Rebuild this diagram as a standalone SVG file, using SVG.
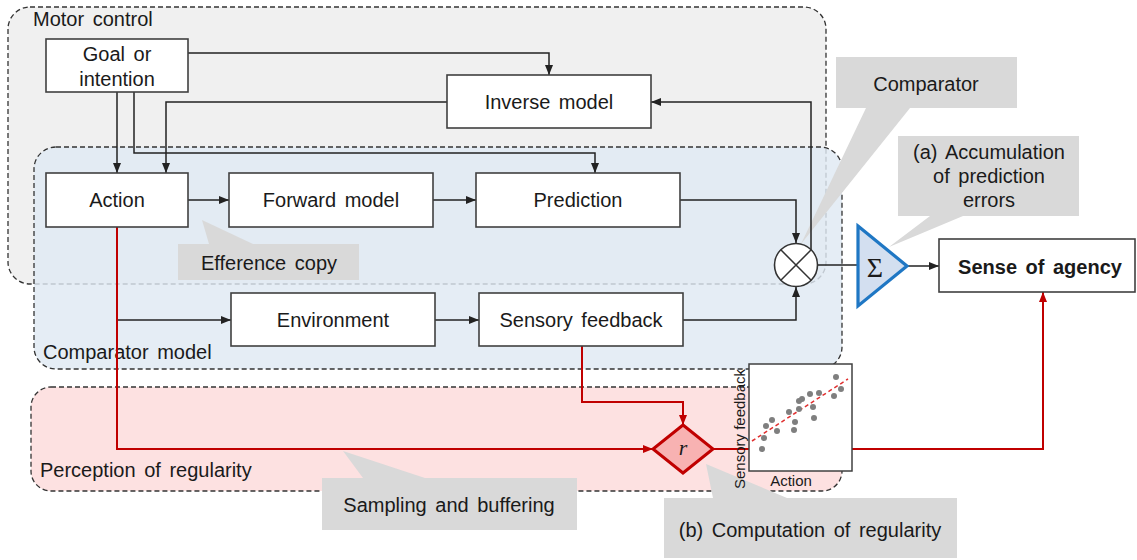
<svg xmlns="http://www.w3.org/2000/svg" width="1137" height="560" viewBox="0 0 1137 560">
<style>
text{font-family:"Liberation Sans",Arial,sans-serif;fill:#1a1a1a;}
.node{fill:#fff;stroke:#404040;stroke-width:1.6;}
.lbl{font-size:20px;text-anchor:middle;word-spacing:3px;}
.reg{font-size:20px;word-spacing:3px;}
.conn{fill:none;stroke:#222;stroke-width:1.5;}
.red{fill:none;stroke:#c00000;stroke-width:2;}
.call{fill:#d9d9d9;}
.dot{fill:#7f7f7f;}
</style>
<defs>
<marker id="ab" markerUnits="userSpaceOnUse" markerWidth="10" markerHeight="10" viewBox="0 0 10 10" refX="10" refY="5" orient="auto"><path d="M0,1 L10,5 L0,9 Z" fill="#222"/></marker>
<marker id="ar" markerUnits="userSpaceOnUse" markerWidth="10" markerHeight="10" viewBox="0 0 10 10" refX="10" refY="5" orient="auto"><path d="M0,1 L10,5 L0,9 Z" fill="#c00000"/></marker>
</defs>
<rect width="1137" height="560" fill="#fff"/>
<!-- regions -->
<g id="motor-control">
<rect x="8" y="7" width="818" height="277" rx="22" fill="#f0f0f0" stroke="#333" stroke-width="1.3" stroke-dasharray="5,3"/>
<text class="reg" x="33" y="26">Motor control</text>
</g>
<g id="comparator-model">
<rect x="34" y="147" width="808" height="222" rx="22" fill="#dfe9f3" fill-opacity="0.82" stroke="#333" stroke-width="1.3" stroke-dasharray="5,3"/>
<text class="reg" x="43" y="359">Comparator model</text>
</g>
<g id="perception-region">
<rect x="31" y="387" width="811" height="104" rx="20" fill="#fde1e1" stroke="#333" stroke-width="1.3" stroke-dasharray="5,3"/>
<text class="reg" x="40" y="477">Perception of regularity</text>
</g>
<!-- callouts -->
<g id="callout-comparator">
<path class="call" d="M836,57 H1017 V108 H910 L801,244 L866,108 H836 Z"/>
<text class="lbl" x="926" y="91">Comparator</text>
</g>
<g id="callout-accumulation">
<path class="call" d="M898,136 H1079 V216 H963 L889,247 L930,216 H898 Z"/>
<text class="lbl" x="989" y="159">(a) Accumulation</text>
<text class="lbl" x="989" y="183">of prediction</text>
<text class="lbl" x="989" y="207">errors</text>
</g>
<g id="callout-efference">
<path class="call" d="M178,244 H209 L202,220 L253,244 H359 V280 H178 Z"/>
<text class="lbl" x="269" y="270">Efference copy</text>
</g>
<!-- connectors -->
<g id="connectors">
<path class="conn" d="M188,53 H549 V75" marker-end="url(#ab)"/>
<path class="conn" d="M117,92 V173" marker-end="url(#ab)"/>
<path class="conn" d="M134,92 V153 H595 V173" marker-end="url(#ab)"/>
<path class="conn" d="M447,102 H166 V173" marker-end="url(#ab)"/>
<path class="conn" d="M811,251 V102 H651" marker-end="url(#ab)"/>
<path class="conn" d="M188,200 H229" marker-end="url(#ab)"/>
<path class="conn" d="M433,200 H476" marker-end="url(#ab)"/>
<path class="conn" d="M680,200 H796 V243" marker-end="url(#ab)"/>
<path class="conn" d="M817,265 H858"/>
<path class="conn" d="M908,266 H939" marker-end="url(#ab)"/>
<path class="conn" d="M117,320 H231" marker-end="url(#ab)"/>
<path class="conn" d="M435,320 H479" marker-end="url(#ab)"/>
<path class="conn" d="M683,320 H796 V287" marker-end="url(#ab)"/>
<path class="red" d="M117,227 V449 H653" marker-end="url(#ar)"/>
<path class="red" d="M582,346 V402 H683 V425" marker-end="url(#ar)"/>
<path class="red" d="M714,449 H1043 V292" marker-end="url(#ar)"/>
</g>
<g id="callout-sampling">
<path class="call" d="M322,478 H363 L343,451 L425,478 H577 V530 H322 Z"/>
<text class="lbl" x="449" y="512">Sampling and buffering</text>
</g>
<g id="callout-computation">
<path class="call" d="M664,498 H713 L706,464 L787,498 H957 V558 H664 Z"/>
<text class="lbl" x="810" y="537">(b) Computation of regularity</text>
</g>
<!-- nodes -->
<g id="goal">
<rect class="node" x="46" y="39" width="142" height="53"/>
<text class="lbl" x="117" y="61">Goal or</text>
<text class="lbl" x="117" y="86">intention</text>
</g>
<g id="inverse-model">
<rect class="node" x="447" y="75" width="204" height="53"/>
<text class="lbl" x="549" y="109">Inverse model</text>
</g>
<g id="action">
<rect class="node" x="46" y="173" width="142" height="54"/>
<text class="lbl" x="117" y="207">Action</text>
</g>
<g id="forward-model">
<rect class="node" x="229" y="173" width="204" height="54"/>
<text class="lbl" x="331" y="207">Forward model</text>
</g>
<g id="prediction">
<rect class="node" x="476" y="173" width="204" height="54"/>
<text class="lbl" x="578" y="207">Prediction</text>
</g>
<g id="environment">
<rect class="node" x="231" y="293" width="204" height="53"/>
<text class="lbl" x="333" y="327">Environment</text>
</g>
<g id="sensory-feedback">
<rect class="node" x="479" y="293" width="204" height="53"/>
<text class="lbl" x="581" y="327">Sensory feedback</text>
</g>
<g id="comparator">
<circle cx="796" cy="265" r="21.5" fill="#fff" stroke="#333" stroke-width="1.6"/>
<path d="M780.8,249.8 L811.2,280.2 M811.2,249.8 L780.8,280.2" stroke="#333" stroke-width="1.5"/>
</g>
<g id="sigma">
<path d="M858,226 L907,266 L858,306 Z" fill="#d3dff0" stroke="#1f77c4" stroke-width="3.2" stroke-linejoin="miter"/>
<text x="875" y="277" font-size="28" text-anchor="middle" style="font-family:'Liberation Serif',serif">Σ</text>
</g>
<g id="sense-of-agency">
<rect class="node" x="939" y="239" width="196" height="53"/>
<text class="lbl" x="1040" y="274" style="font-weight:bold">Sense of agency</text>
</g>
<g id="regularity">
<path d="M683,425 L713,449 L683,473 L653,449 Z" fill="#f8b2b2" stroke="#c00000" stroke-width="3" stroke-linejoin="miter"/>
<text x="683" y="455" font-size="22" font-style="italic" text-anchor="middle" style="font-family:'Liberation Serif',serif">r</text>
</g>
<g id="scatter-plot">
<rect x="749" y="364" width="103" height="107" fill="#fff" stroke="#404040" stroke-width="1.5"/>
<line x1="752" y1="441" x2="848" y2="379" stroke="#e03030" stroke-width="1.5" stroke-dasharray="4,3"/>
<circle class="dot" cx="762" cy="449" r="3"/>
<circle class="dot" cx="764" cy="438" r="3"/>
<circle class="dot" cx="766" cy="426" r="3"/>
<circle class="dot" cx="772" cy="420" r="3"/>
<circle class="dot" cx="777" cy="431" r="3"/>
<circle class="dot" cx="789" cy="412" r="3"/>
<circle class="dot" cx="794" cy="430" r="3"/>
<circle class="dot" cx="795" cy="422" r="3"/>
<circle class="dot" cx="799" cy="409" r="3"/>
<circle class="dot" cx="799" cy="401" r="3"/>
<circle class="dot" cx="802" cy="399" r="3"/>
<circle class="dot" cx="810" cy="394" r="3"/>
<circle class="dot" cx="813" cy="407" r="3"/>
<circle class="dot" cx="814" cy="418" r="3"/>
<circle class="dot" cx="819" cy="393" r="3"/>
<circle class="dot" cx="834" cy="396" r="3"/>
<circle class="dot" cx="836" cy="377" r="3"/>
<circle class="dot" cx="841" cy="389" r="3"/>
<text x="791" y="486" font-size="15" text-anchor="middle">Action</text>
<text x="0" y="0" font-size="15" text-anchor="middle" transform="translate(745,429) rotate(-90)">Sensory feedback</text>
</g>
</svg>
